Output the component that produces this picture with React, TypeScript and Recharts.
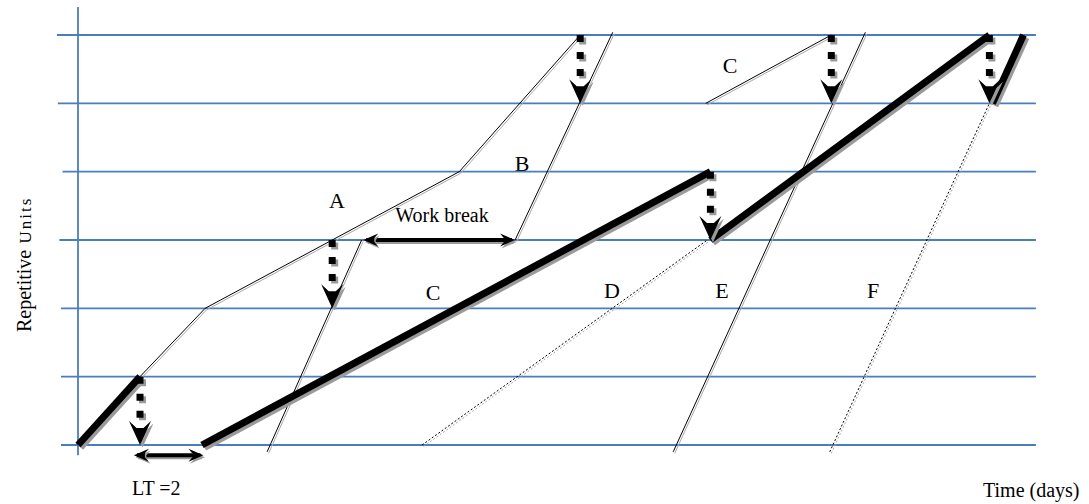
import React from 'react';
import { Line, LineChart, XAxis, YAxis } from 'recharts';

type Pt = { d: number; u: number };

// time in days (x) and repetitive unit index (y)
const unitLevels = [0, 1, 2, 3, 4, 5, 6];
const gridLeftEnds = [-0.55, -0.55, -0.55, -0.6, -0.5, -0.65, -0.68];
const gridRightEnd = 30.9;
const axisLine: Pt[] = [{ d: 0, u: -0.15 }, { d: 0, u: 6.41 }];

// critical path (thick)
const criticalPath: Pt[][] = [
  [{ d: 0, u: 0 }, { d: 2, u: 1 }],
  [{ d: 4, u: 0 }, { d: 20.4, u: 4 }],
  [{ d: 20.4, u: 3 }, { d: 29.4, u: 6 }],
  [{ d: 29.5, u: 5 }, { d: 30.5, u: 6 }],
];

// other activities (thin)
const activityA: Pt[] = [{ d: 2, u: 1 }, { d: 4.1, u: 2 }, { d: 12.3, u: 4 }, { d: 16.2, u: 6 }];
const activityB1: Pt[] = [{ d: 6.1, u: -0.1 }, { d: 9.15, u: 3 }];
const activityB2: Pt[] = [{ d: 14.1, u: 3 }, { d: 17.25, u: 6.04 }];
const activityC2: Pt[] = [{ d: 20.25, u: 5 }, { d: 24.3, u: 6 }];
const activityE: Pt[] = [{ d: 19.2, u: -0.1 }, { d: 25.4, u: 6.04 }];

// dotted activities
const activityD: Pt[] = [{ d: 11.1, u: 0 }, { d: 20.3, u: 3 }];
const activityF: Pt[] = [{ d: 24.25, u: -0.1 }, { d: 29.4, u: 5 }];

// dashed drop arrows: [day, from unit]
const drops: [number, number][] = [
  [2, 1],
  [8.2, 3],
  [16.2, 6],
  [20.4, 4],
  [24.3, 6],
  [29.4, 6],
];

// double-headed spans
const leadTime: Pt[] = [{ d: 1.9, u: -0.15 }, { d: 3.95, u: -0.15 }];
const workBreak: Pt[] = [{ d: 9.3, u: 3 }, { d: 14.0, u: 3 }];

const serif = "'Liberation Serif', 'Times New Roman', Times, serif";
const gridBlue = '#4a7ebb';
const shadowGrey = '#9a9a9a';
const txt = { fontFamily: serif, fill: '#000' };

const headDown = (cx: number, cy: number) =>
  `${cx},${cy} ${cx - 11},${cy - 24} ${cx - 3.5},${cy - 17} ${cx + 3.5},${cy - 17} ${cx + 11},${cy - 24}`;

const downHead = (props: any) => {
  const { cx, cy, index } = props;
  if (index !== 1) return <g key={`dh${index}`} />;
  return (
    <g key={`dh${index}`}>
      <polygon points={headDown(cx + 2.5, cy + 2.5)} fill={shadowGrey} />
      <polygon points={headDown(cx, cy)} fill="#000" />
    </g>
  );
};

const headSide = (t: number, cy: number, s: number) =>
  `${t},${cy} ${t + 15 * s},${cy - 6.5} ${t + 11 * s},${cy - 2} ${t + 11 * s},${cy + 2} ${t + 15 * s},${cy + 6.5}`;

const sideHeads = (props: any) => {
  const { cx, cy, index } = props;
  const s = index === 0 ? 1 : -1;
  const t = cx - 3 * s;
  return (
    <g key={`sh${index}`}>
      <polygon points={headSide(t + 1.5, cy + 2, s)} fill={shadowGrey} />
      <polygon points={headSide(t, cy, s)} fill="#000" />
    </g>
  );
};

// a black stroke with a grey copy shifted down-right underneath
const shadowed = (key: string, data: Pt[], width: number, extra: any = {}, shift = 'sh-thick') => [
  <Line
    key={`${key}-s`}
    className={shift}
    data={data}
    dataKey="u"
    stroke={shift === 'sh-thin' ? '#a8a8a8' : shadowGrey}
    strokeWidth={width}
    {...extra}
    dot={false}
    activeDot={false}
    isAnimationActive={false}
  />,
  <Line
    key={key}
    data={data}
    dataKey="u"
    stroke="#000"
    strokeWidth={width}
    {...extra}
    activeDot={false}
    isAnimationActive={false}
  />,
];

export default function App() {
  return (
    <div style={{ position: 'absolute', left: 0, top: 0, width: 1089, height: 504, background: '#fff' }}>
      <style>{`
        .sh-thick { transform: translate(2.5px, 2.5px); }
        .sh-mid { transform: translate(1.5px, 2px); }
        .sh-thin { transform: translate(1.5px, 1.5px); }
      `}</style>
      <LineChart width={1089} height={504} margin={{ top: 0.83, right: 50, bottom: 24.83, left: 47 }}>
        <XAxis dataKey="d" type="number" domain={[-1, 31]} allowDataOverflow hide />
        <YAxis type="number" domain={[-0.5, 6.5]} allowDataOverflow hide />

        {unitLevels.map((u, i) => (
          <Line
            key={`g${u}`}
            data={[{ d: gridLeftEnds[i], u }, { d: gridRightEnd, u }]}
            dataKey="u"
            stroke={gridBlue}
            strokeWidth={1.8}
            dot={false}
            activeDot={false}
            isAnimationActive={false}
          />
        ))}
        <Line data={axisLine} dataKey="u" stroke={gridBlue} strokeWidth={1.8} dot={false} activeDot={false} isAnimationActive={false} />

        {[activityA, activityB1, activityB2, activityC2, activityE].map((pts, i) =>
          shadowed(`a${i}`, pts, 1, { dot: false }, 'sh-thin'),
        )}
        {[activityD, activityF].map((pts, i) =>
          shadowed(`dt${i}`, pts, 1, { dot: false, strokeDasharray: '2 2' }, 'sh-thin'),
        )}

        {criticalPath.map((pts, i) => shadowed(`c${i}`, pts, 7, { dot: false }))}

        {drops.map(([d, u], i) =>
          shadowed(`dr${i}`, [{ d, u }, { d, u: u - 1 }], 7, { strokeDasharray: '7 10 7 10 7 100', dot: downHead }),
        )}

        {[leadTime, workBreak].map((pts, i) => shadowed(`sp${i}`, pts, 4, { dot: sideHeads }, 'sh-mid'))}

        <text x={337} y={208} fontSize={22} textAnchor="middle" style={txt}>A</text>
        <text x={522} y={171} fontSize={22} textAnchor="middle" style={txt}>B</text>
        <text x={433} y={300} fontSize={22} textAnchor="middle" style={txt}>C</text>
        <text x={730} y={73} fontSize={22} textAnchor="middle" style={txt}>C</text>
        <text x={612} y={298} fontSize={22} textAnchor="middle" style={txt}>D</text>
        <text x={722} y={298} fontSize={22} textAnchor="middle" style={txt}>E</text>
        <text x={873} y={298} fontSize={22} textAnchor="middle" style={txt}>F</text>
        <text x={442} y={222} fontSize={20} textAnchor="middle" style={txt}>Work break</text>
        <text x={132} y={495} fontSize={20} style={txt}>LT =2</text>
        <text x={983} y={497} fontSize={20} style={txt}>Time (days)</text>
        <text x={31} y={332} transform="rotate(-90 31 332)" style={txt}>
          <tspan fontSize={20}>Repetitive</tspan>
          <tspan fontSize={17} letterSpacing={2}> Units</tspan>
        </text>
      </LineChart>
    </div>
  );
}
